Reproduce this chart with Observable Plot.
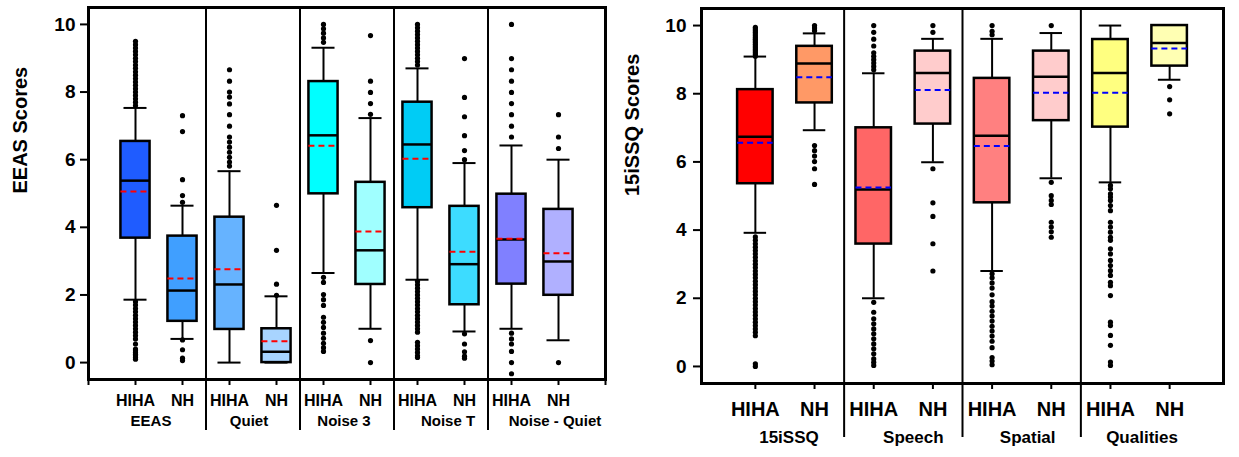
<!DOCTYPE html>
<html><head><meta charset="utf-8">
<script src="https://cdn.jsdelivr.net/npm/d3@7"></script>
<script src="https://cdn.jsdelivr.net/npm/@observablehq/plot@0.6"></script>
<style>
body{margin:0;background:#fff;}
#wrap{position:relative;width:1239px;height:457px;overflow:hidden;font-family:"Liberation Sans",Arial,sans-serif;}
#left,#right{position:absolute;top:0;}
#left{left:0;} #right{left:620px;}
</style></head><body><div id="wrap"><div id="left"></div><div id="right"></div></div>
<script>
// ---------- Left panel: EEAS ----------
const eeasGroups = ["EEAS", "Quiet", "Noise 3", "Noise T", "Noise - Quiet"];
const eeasCats = ["HIHA","NH","HIHA","NH","HIHA","NH","HIHA","NH","HIHA","NH"];
const eeasLow    = [1.86, 0.70, 0.00, 0.00, 2.65, 1.00, 2.45, 0.92, 1.00, 0.66];
const eeasQ1     = [3.68, 1.22, 0.98, 0.00, 4.99, 2.31, 4.58, 1.71, 2.32, 1.99];
const eeasMedian = [5.38, 2.13, 2.31, 0.32, 6.72, 3.32, 6.45, 2.91, 3.64, 2.99];
const eeasQ3     = [6.54, 3.74, 4.30, 1.00, 8.31, 5.33, 7.70, 4.62, 4.98, 4.53];
const eeasHigh   = [7.53, 4.64, 5.66, 1.96, 9.31, 7.23, 8.70, 5.90, 6.42, 6.00];
const eeasMean   = [5.06, 2.49, 2.76, 0.63, 6.41, 3.88, 6.03, 3.28, 3.66, 3.23];
const eeasOutliers = [
  [7.6,7.7,7.8,7.9,8.0,8.1,8.2,8.3,8.4,8.5,8.6,8.7,8.8,8.9,9.0,9.1,9.2,9.3,9.4,9.5,
   1.8,1.7,1.6,1.5,1.4,1.3,1.2,1.1,1.0,0.9,0.8,0.7,0.55,0.4,0.35,0.3,0.25,0.2,0.15,0.1],
  [7.3,6.83,5.41,4.94,4.74,0.67,0.38,0.13,0.06],
  [8.66,8.32,8.0,7.85,7.65,7.33,6.99,6.67,6.52,6.37,6.22,6.07,5.93,5.81],
  [4.65,3.32,2.32,1.99],
  [10.0,9.87,9.74,9.6,9.47,2.52,2.37,2.01,1.86,1.69,1.34,1.19,1.04,0.87,0.72,0.57,0.44,0.33],
  [9.67,8.32,7.99,7.66,7.34,0.65,0.0],
  [8.8,8.9,9.0,9.1,9.2,9.3,9.4,9.5,9.6,9.7,9.8,9.9,10.0,
   2.4,2.3,2.2,2.1,2.0,1.9,1.8,1.7,1.6,1.5,1.4,1.3,1.2,1.1,1.0,0.9,0.6,0.5,0.4,0.3,0.2,0.15],
  [8.99,7.84,7.27,6.71,6.27,6.0,0.85,0.55,0.32,0.19,0.13],
  [10.0,8.99,8.66,8.32,7.99,7.66,7.33,6.99,6.67,0.87,0.70,0.55,0.33,0.0,-0.33],
  [7.33,6.67,6.33,0.0]
];
const eeasFill = ["#1f5cff","#409fff","#66b3ff","#a8d4ff","#00ffff","#a0ffff","#00ccf5","#3ddcff","#8080ff","#b0b0ff"];

// ---------- Right panel: 15iSSQ ----------
const ssqGroups = ["15iSSQ", "Speech", "Spatial", "Qualities"];
const ssqCats = ["HIHA","NH","HIHA","NH","HIHA","NH","HIHA","NH"];
const ssqLow    = [3.92, 6.93, 2.00, 5.99, 2.80, 5.52, 5.40, 8.41];
const ssqQ1     = [5.36, 7.73, 3.59, 7.11, 4.80, 7.21, 7.02, 8.81];
const ssqMedian = [6.74, 8.89, 5.19, 8.61, 6.77, 8.50, 8.61, 9.49];
const ssqQ3     = [8.12, 9.39, 7.00, 9.25, 8.45, 9.25, 9.59, 10.0];
const ssqHigh   = [9.09, 9.77, 8.60, 9.61, 9.61, 9.78, 10.0, 10.0];
const ssqMean   = [6.56, 8.48, 5.25, 8.11, 6.47, 8.03, 8.03, 9.33];
const ssqOutliers = [
  [9.1,9.15,9.2,9.25,9.3,9.35,9.4,9.45,9.5,9.55,9.6,9.65,9.7,9.75,9.8,9.85,9.9,9.95,
   3.8,3.7,3.6,3.5,3.4,3.3,3.2,3.1,3.0,2.9,2.8,2.7,2.6,2.5,2.4,2.3,2.2,2.1,2.0,1.9,1.8,1.7,1.6,1.5,1.4,1.3,1.2,1.1,1.0,0.9,0.08,0.0],
  [10.0,9.93,9.85,6.48,6.33,6.17,6.01,5.8,5.34],
  [10.0,9.8,9.6,9.4,9.2,9.1,9.0,8.9,8.8,8.7,
   1.88,1.59,1.4,1.25,1.1,0.96,0.81,0.66,0.52,0.37,0.22,0.12,0.03],
  [10.0,9.8,5.8,4.8,4.4,3.6,2.8],
  [10.0,9.83,9.73,2.72,2.6,2.45,2.3,2.1,1.9,1.77,1.62,1.48,1.33,1.18,1.04,0.89,0.74,0.55,0.26,0.16,0.05],
  [10.0,5.4,5.01,4.87,4.75,4.23,4.09,3.95,3.79],
  [5.31,5.21,5.06,4.97,4.87,4.72,4.57,4.23,4.09,3.94,3.79,3.70,3.45,3.30,3.11,2.96,2.81,2.67,2.47,2.37,2.08,1.30,1.20,0.91,0.62,0.13,0.03],
  [8.21,7.82,7.41]
];
const ssqFill = ["#ff0000","#ff9966","#ff6666","#ffcccc","#ff8080","#ffcccc","#ffff80","#ffffb3"];
const yTicks = [0, 2, 4, 6, 8, 10];

function buildPanel(o) {
  const rows = o.cats.map((c, k) => ({
    i: k + 1, low: o.low[k], q1: o.q1[k], med: o.median[k], q3: o.q3[k],
    high: o.high[k], mean: o.mean[k], fill: o.fill[k]
  }));
  const pts = o.outliers.flatMap((arr, k) => arr.map(v => ({i: k + 1, v})));
  const dividers = d3.range(1, o.groups.length).map(k => 2 * k + 0.5);
  const bw = o.boxHalf, cw = o.capHalf;
  const groupMarks = o.groups.map((g, k) =>
    Plot.text([g], {x: 2 * k + 1.5, text: d => d, frameAnchor: "bottom", dy: o.groupDy, dx: o.groupDx[k],
                    fontSize: o.groupFont, fontWeight: "bold"}));
  return Plot.plot({
    width: o.width, height: 457,
    marginLeft: o.ml, marginRight: o.mr, marginTop: o.mt, marginBottom: o.mb,
    style: {fontFamily: "'Liberation Sans', Arial, sans-serif", color: "black", background: "white"},
    x: {domain: o.xDomain},
    y: {domain: [-0.5, 10.5]},
    color: {type: "identity"},
    marks: [
      Plot.ruleX(dividers, {x: d => d, stroke: "black", strokeWidth: 2, insetBottom: -o.divExt}),
      Plot.ruleX(rows, {x: "i", y1: "low", y2: "q1", stroke: "black", strokeWidth: 2}),
      Plot.ruleX(rows, {x: "i", y1: "q3", y2: "high", stroke: "black", strokeWidth: 2}),
      Plot.ruleY(rows, {y: "low", x1: d => d.i - cw, x2: d => d.i + cw, stroke: "black", strokeWidth: 2}),
      Plot.ruleY(rows, {y: "high", x1: d => d.i - cw, x2: d => d.i + cw, stroke: "black", strokeWidth: 2}),
      Plot.dot(pts, {x: "i", y: "v", r: 2.6, fill: "black", stroke: null}),
      Plot.rect(rows, {x1: d => d.i - bw, x2: d => d.i + bw, y1: "q1", y2: "q3", fill: "fill", stroke: "black", strokeWidth: 2.5}),
      Plot.ruleY(rows, {y: "med", x1: d => d.i - bw, x2: d => d.i + bw, stroke: "black", strokeWidth: 2.5}),
      Plot.ruleY(rows, {y: "mean", x1: d => d.i - bw, x2: d => d.i + bw, stroke: o.meanColor, strokeWidth: 2, strokeDasharray: "6,4"}),
      Plot.frame({stroke: "black", strokeWidth: 3}),
      Plot.axisY({ticks: yTicks, tickSize: 8, tickPadding: o.yPad, fontSize: 19, fontWeight: "bold", label: null, strokeWidth: 2}),
      Plot.axisX({ticks: o.xTicks, tickSize: 6, tickPadding: o.xPad, fontSize: o.catFont, fontWeight: "bold",
                  tickFormat: t => o.cats[t - 1] ?? "", label: null, strokeWidth: 2}),
      ...groupMarks,
      Plot.text([o.ylabel], {text: d => d, frameAnchor: "left", dx: -o.yLabelOff, rotate: -90, fontSize: 20, fontWeight: o.yLabelWeight})
    ]
  });
}

document.getElementById("left").append(buildPanel({
  cats: eeasCats, groups: eeasGroups, low: eeasLow, q1: eeasQ1, median: eeasMedian, q3: eeasQ3,
  high: eeasHigh, mean: eeasMean, outliers: eeasOutliers, fill: eeasFill, meanColor: "#ff0000",
  width: 620, ml: 88, mr: 15, mt: 7, mb: 78, xDomain: [0, 11], xTicks: d3.range(0, 12),
  boxHalf: 0.31, capHalf: 0.245, divExt: 51, yPad: 5, xPad: 9, catFont: 16, groupFont: 15, groupDy: 46,
  groupDx: [-8, -4, -3, 7, 20],
  ylabel: "EEAS Scores", yLabelOff: 68, yLabelWeight: "bold"
}));
document.getElementById("right").append(buildPanel({
  cats: ssqCats, groups: ssqGroups, low: ssqLow, q1: ssqQ1, median: ssqMedian, q3: ssqQ3,
  high: ssqHigh, mean: ssqMean, outliers: ssqOutliers, fill: ssqFill, meanColor: "#0000ff",
  width: 619, ml: 81, mr: 16, mt: 8, mb: 74, xDomain: [0.09, 8.91], xTicks: d3.range(1, 9),
  boxHalf: 0.30, capHalf: 0.19, divExt: 54, yPad: 7, xPad: 12, catFont: 20, groupFont: 17, groupDy: 59,
  groupDx: [4, 10, 6, 2],
  ylabel: "15iSSQ Scores", yLabelOff: 69, yLabelWeight: "bold"
}));
</script>
</body></html>
